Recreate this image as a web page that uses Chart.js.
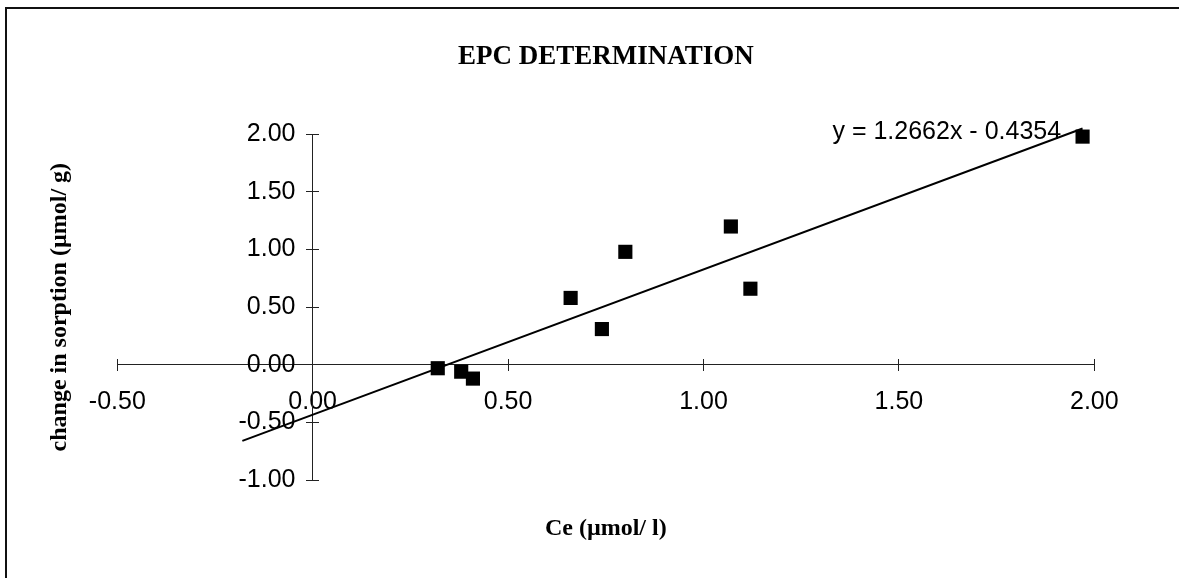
<!DOCTYPE html>
<html>
<head>
<meta charset="utf-8">
<title>EPC DETERMINATION</title>
<script src="https://cdn.jsdelivr.net/npm/chart.js"></script>
<style>
  body { margin: 0; background: #fff; }
  .wrap { position: relative; width: 1179px; height: 578px; overflow: hidden; }
  .frame { position: absolute; left: 5px; top: 7px; width: 1300px; height: 700px; border-left: 2px solid #111; border-top: 2px solid #111; }
  canvas { position: absolute; left: 0; top: 0; }
</style>
</head>
<body>
<div class="wrap">
  <div class="frame"></div>
  <canvas id="epc" width="1179" height="578"></canvas>
</div>
<script>
// measured points: Ce vs change in sorption
const ceValues = [0.32, 0.38, 0.41, 0.66, 0.74, 0.80, 1.07, 1.12, 1.97];
const sorptionChange = [-0.03, -0.06, -0.12, 0.58, 0.31, 0.98, 1.20, 0.66, 1.98];

// linear trendline end points
const trendX = [-0.18, 1.97];
const trendY = [-0.66, 2.05];
const trendLabel = 'y = 1.2662x - 0.4354';

const xRange = [-0.5, 2.0];
const yRange = [-1.0, 2.0];
const tickStep = 0.5;

const serif = "'Liberation Serif', 'Times New Roman', serif";
const sans = "'Liberation Sans', Arial, sans-serif";
const ink = '#222';

Chart.defaults.font.family = sans;
Chart.defaults.color = '#000';

const points = ceValues.map((v, i) => ({ x: v, y: sorptionChange[i] }));
const trend = trendX.map((v, i) => ({ x: v, y: trendY[i] }));

// writes the regression equation next to the line
const equationLabel = {
  id: 'equationLabel',
  afterDatasetsDraw(chart, args, opts) {
    const { ctx, scales } = chart;
    ctx.save();
    ctx.font = '25px ' + sans;
    ctx.fillStyle = '#000';
    ctx.textAlign = 'left';
    ctx.textBaseline = 'middle';
    ctx.fillText(opts.text, scales.x.getPixelForValue(opts.x), scales.y.getPixelForValue(opts.y));
    ctx.restore();
  }
};

const axisBase = (range, pos) => ({
  type: 'linear',
  min: range[0],
  max: range[1],
  position: pos
});

const fmt = v => v.toFixed(2);

new Chart(document.getElementById('epc'), {
  type: 'scatter',
  data: {
    datasets: [
      {
        label: 'data',
        data: points,
        xAxisID: 'x', yAxisID: 'y',
        pointStyle: 'rect',
        pointRadius: 10,
        pointHoverRadius: 10,
        backgroundColor: '#000',
        borderWidth: 0,
        clip: false
      },
      {
        label: 'trend',
        type: 'line',
        data: trend,
        xAxisID: 'x', yAxisID: 'y',
        borderColor: '#000',
        borderWidth: 2,
        pointRadius: 0,
        fill: false,
        clip: false
      }
    ]
  },
  options: {
    responsive: false,
    animation: false,
    layout: { padding: { left: 10, right: 84.7, top: 10, bottom: 10 } },
    plugins: {
      legend: { display: false },
      tooltip: { enabled: false },
      title: {
        display: true,
        text: 'EPC DETERMINATION',
        fullSize: false,
        color: '#000',
        font: { family: serif, size: 27, weight: 'bold' },
        padding: { top: 30.8, bottom: 61.1 }
      },
      equationLabel: { text: trendLabel, x: 1.33, y: 2.015 }
    },
    scales: {
      x: {
        ...axisBase(xRange, { y: 0 }),
        border: { display: true, color: ink, width: 1 },
        grid: { drawOnChartArea: false, drawTicks: true, tickLength: 6, color: ink },
        ticks: { stepSize: tickStep, padding: 16, font: { size: 25 }, color: '#000',
                 callback: fmt, maxRotation: 0, autoSkip: false }
      },
      y: {
        ...axisBase(yRange, { x: 0 }),
        border: { display: true, color: ink, width: 1 },
        grid: { drawOnChartArea: false, drawTicks: true, tickLength: 6, color: ink },
        ticks: { stepSize: tickStep, display: false }
      },
      // the other half of the crossing tick marks
      xt: {
        ...axisBase(xRange, { y: 0 }),
        axis: 'x',
        border: { display: false },
        grid: { drawOnChartArea: false, drawTicks: true, tickLength: -6, color: ink },
        ticks: { stepSize: tickStep, display: false }
      },
      yt: {
        ...axisBase(yRange, { x: 0 }),
        axis: 'y',
        border: { display: false },
        grid: { drawOnChartArea: false, drawTicks: true, tickLength: -6, color: ink },
        ticks: { stepSize: tickStep, display: false }
      },
      // y tick labels, set a little left of the y axis line
      yl: {
        ...axisBase(yRange, { x: -0.044 }),
        axis: 'y',
        border: { display: false },
        grid: { display: false, drawTicks: false },
        ticks: { stepSize: tickStep, font: { size: 25 }, color: '#000',
                 callback: fmt, autoSkip: false }
      },
      // outer axes that only carry the axis titles
      x2: {
        ...axisBase(xRange, 'bottom'),
        axis: 'x',
        border: { display: false },
        grid: { display: false, drawTicks: false },
        ticks: { display: false },
        title: { display: true, text: 'Ce (µmol/ l)', color: '#000',
                 font: { family: serif, size: 24, weight: 'bold' },
                 padding: { top: 34.6, bottom: 24.6 } }
      },
      y2: {
        ...axisBase(yRange, 'left'),
        axis: 'y',
        border: { display: false },
        grid: { display: false, drawTicks: false },
        ticks: { display: false },
        title: { display: true, text: 'change in sorption (µmol/ g)', color: '#000',
                 font: { family: serif, size: 24, weight: 'bold' },
                 padding: { top: 35.6, bottom: 42.9 } }
      }
    }
  },
  plugins: [equationLabel]
});
</script>
</body>
</html>
